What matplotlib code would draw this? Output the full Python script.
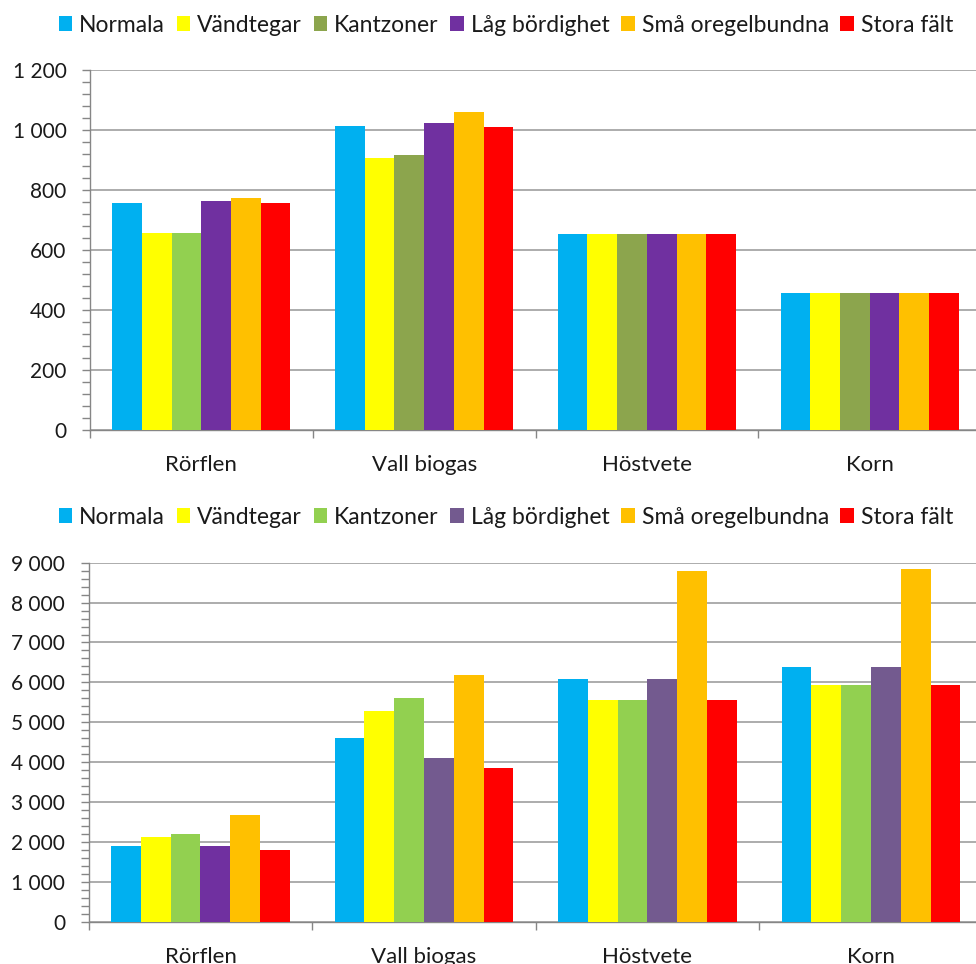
import matplotlib
matplotlib.use("Agg")
import matplotlib.pyplot as plt
from matplotlib.patches import Patch
from matplotlib.ticker import MultipleLocator, FuncFormatter, FixedLocator, NullFormatter
import numpy as np

plt.rcParams['font.family'] = ['Lato', 'DejaVu Sans']

crops = ["Rörflen", "Vall biogas", "Höstvete", "Korn"]
series = ["Normala", "Vändtegar", "Kantzoner", "Låg bördighet", "Små oregelbundna", "Stora fält"]

# Upper panel values (per crop, per scenario)
top_normala = [757, 1013, 653, 457]
top_vandtegar = [658, 908, 653, 457]
top_kantzoner = [658, 916, 653, 457]
top_lag = [764, 1022, 653, 457]
top_sma = [773, 1059, 653, 457]
top_stora = [756, 1009, 653, 457]

# Lower panel values
bot_normala = [1900, 4600, 6075, 6375]
bot_vandtegar = [2120, 5270, 5565, 5940]
bot_kantzoner = [2190, 5605, 5565, 5940]
bot_lag = [1900, 4095, 6075, 6375]
bot_sma = [2665, 6175, 8790, 8850]
bot_stora = [1790, 3860, 5565, 5940]

BLUE = "#00B0F0"
YELLOW = "#FFFF00"
OLIVE = "#8CA54D"
LGREEN = "#92D050"
PURPLE = "#7030A0"
MPURPLE = "#735A8F"
ORANGE = "#FFC000"
RED = "#FF0000"

top_colors = [
    [BLUE] * 4,
    [YELLOW] * 4,
    [LGREEN, OLIVE, OLIVE, OLIVE],
    [PURPLE] * 4,
    [ORANGE] * 4,
    [RED] * 4,
]
top_legend_colors = [BLUE, YELLOW, OLIVE, PURPLE, ORANGE, RED]

bot_colors = [
    [BLUE] * 4,
    [YELLOW] * 4,
    [LGREEN] * 4,
    [PURPLE, MPURPLE, MPURPLE, MPURPLE],
    [ORANGE] * 4,
    [RED] * 4,
]
bot_legend_colors = [BLUE, YELLOW, LGREEN, MPURPLE, ORANGE, RED]

top_values = [top_normala, top_vandtegar, top_kantzoner, top_lag, top_sma, top_stora]
bot_values = [bot_normala, bot_vandtegar, bot_kantzoner, bot_lag, bot_sma, bot_stora]

W, H = 976, 964
fig = plt.figure(figsize=(W / 100, H / 100), dpi=100)

GRID = "#A6A6A6"
AXIS = "#868686"
TEXT = "#1A1A1A"
FS = 15


def fmt(v, pos):
    return f"{v:,.0f}".replace(",", " ")


def panel(rect, values, colors, ymax, major, minor, legend_colors, legend_y):
    ax = fig.add_axes(rect)
    n = len(values)
    x = np.arange(len(crops))
    group = 0.8
    bw = group / n
    for i, (vals, cols) in enumerate(zip(values, colors)):
        ax.bar(x - group / 2 + bw * (i + 0.5), vals, width=bw, color=cols,
               edgecolor="none", zorder=3)
    ax.set_xlim(-0.5, len(crops) - 0.5)
    ax.set_ylim(0, ymax)
    for s in ["top", "right"]:
        ax.spines[s].set_visible(False)
    for s in ["left", "bottom"]:
        ax.spines[s].set_color(AXIS)
        ax.spines[s].set_linewidth(1.0)
    ax.yaxis.set_major_locator(MultipleLocator(major))
    ax.yaxis.set_minor_locator(MultipleLocator(minor))
    ax.yaxis.set_major_formatter(FuncFormatter(fmt))
    ax.grid(axis="y", which="major", color=GRID, linewidth=1.3, zorder=0)
    ax.tick_params(axis="y", which="both", length=6, width=1, color=AXIS,
                   labelsize=FS, pad=11, labelcolor=TEXT)
    ax.xaxis.set_major_locator(FixedLocator(np.arange(len(crops) + 1) - 0.5))
    ax.xaxis.set_major_formatter(NullFormatter())
    ax.xaxis.set_minor_locator(FixedLocator(x))
    ax.set_xticklabels(crops, minor=True)
    ax.tick_params(axis="x", which="major", length=6, width=1, color=AXIS)
    ax.tick_params(axis="x", which="minor", length=0, labelsize=16, pad=18,
                   labelcolor=TEXT)
    handles = [Patch(facecolor=c, edgecolor="none") for c in legend_colors]
    leg = fig.legend(handles, series, loc="center",
                     bbox_to_anchor=(506 / W, 1 - legend_y / H),
                     ncol=6, frameon=False, fontsize=16.5, handlelength=0.6,
                     handleheight=0.6, handletextpad=0.3, columnspacing=0.5,
                     borderaxespad=0)
    for t in leg.get_texts():
        t.set_color(TEXT)
    return ax


panel([90 / W, 1 - 430 / H, 891 / W, 360 / H], top_values, top_colors,
      1200, 200, 40, top_legend_colors, 25)
panel([88.7 / W, 1 - 921.7 / H, 894 / W, 359 / H], bot_values, bot_colors,
      9000, 1000, 200, bot_legend_colors, 517)

fig.savefig("out.png", dpi=100)
